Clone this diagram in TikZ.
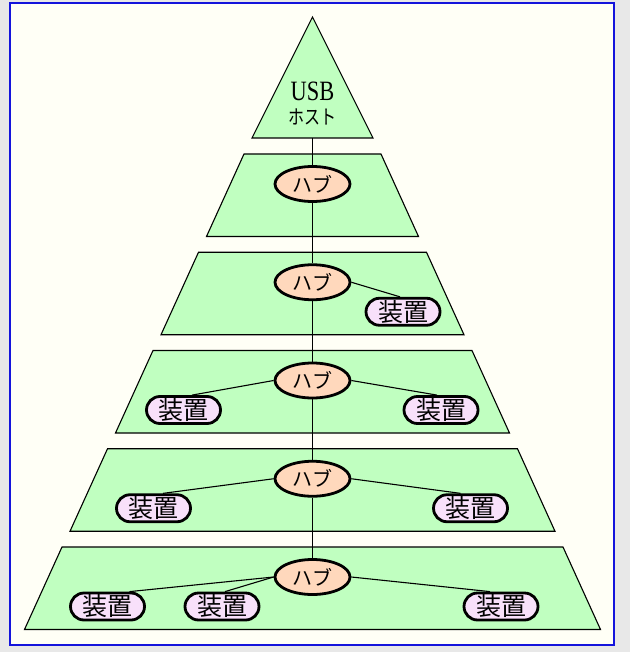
\documentclass[tikz,border=0pt]{standalone}
\usepackage{fontspec}
\setmainfont{Liberation Serif}
\newfontfamily\jfont{Noto Sans CJK JP}
\usetikzlibrary{calc,shapes.geometric}
\definecolor{bggray}{RGB}{232,232,232}
\definecolor{paper}{RGB}{255,255,246}
\definecolor{frameblue}{RGB}{20,20,220}
\definecolor{layergreen}{RGB}{192,255,192}
\definecolor{hubfill}{RGB}{255,216,188}
\definecolor{devfill}{RGB}{248,224,250}
\begin{document}
\begin{tikzpicture}[x=1pt,y=-1pt,
  layer/.style={draw=black,fill=layergreen,line width=1.1pt,line join=miter},
  hub/.style={ellipse,draw=black,fill=hubfill,line width=2.8pt,minimum width=75pt,minimum height=35pt,inner sep=0pt,font=\jfont\fontsize{20}{22}\selectfont},
  device/.style={rectangle,rounded corners=13.5pt,draw=black,fill=devfill,line width=2.8pt,minimum width=74pt,minimum height=27pt,inner sep=0pt,font=\jfont\fontsize{25}{27}\selectfont},
  link/.style={draw=black,line width=1.1pt},
  hosttext/.style={anchor=base,inner sep=0pt}]
% background and frame
\fill[bggray] (0,0) rectangle (630,652);
\useasboundingbox (0,0) rectangle (630,652);
\draw[frameblue,line width=1.5pt,fill=paper] (10,3) rectangle (614,645);
% host triangle
\draw[layer] (312.5,17) -- (373,138) -- (252,138) -- cycle;
\coordinate (hostbase) at (312.5,138);
\node[hosttext] (hostusb) at (312.5,101) {\scalebox{0.8}[1]{\fontsize{28}{28}\selectfont USB}};
\node[hosttext] (hostjp) at (312.5,125) {\scalebox{0.8}[1]{\jfont\fontsize{20}{20}\selectfont ホスト}};
% layers
\foreach \i in {0,...,4}{
  \pgfmathsetmacro{\T}{154+98.25*\i}
  \pgfmathsetmacro{\B}{\T+82.5}
  \pgfmathsetmacro{\a}{68.5+45.5*\i}
  \pgfmathsetmacro{\b}{\a+37.5}
  \draw[layer] (312.5-\a,\T) -- (312.5+\a,\T) -- (312.5+\b,\B) -- (312.5-\b,\B) -- cycle;
}
% hubs
\node[hub] (h1) at (312.5,184) {ハブ};
\node[hub] (h2) at (312.5,282.25) {ハブ};
\node[hub] (h3) at (312.5,380.5) {ハブ};
\node[hub] (h4) at (312.5,478.75) {ハブ};
\node[hub] (h5) at (312.5,577) {ハブ};
% devices
\node[device] (d21) at (403,311.75) {装置};
\node[device] (d31) at (183.5,410) {装置};
\node[device] (d32) at (441,410) {装置};
\node[device] (d41) at (153.5,508.25) {装置};
\node[device] (d42) at (470.5,508.25) {装置};
\node[device] (d51) at (107.5,606.5) {装置};
\node[device] (d52) at (222,606.5) {装置};
\node[device] (d53) at (501,606.5) {装置};
% backbone
\draw[link] (hostbase) -- (h1);
\draw[link] (h1) -- (h2);
\draw[link] (h2) -- (h3);
\draw[link] (h3) -- (h4);
\draw[link] (h4) -- (h5);
% device links
\draw[link] (h2.east) -- ($(d21.north)+(-3,0)$);
\draw[link] (h3.west) -- ($(d31.north)+(8.5,0)$);
\draw[link] (h3.east) -- ($(d32.north)+(-4,0)$);
\draw[link] (h4.west) -- ($(d41.north)+(9.5,0)$);
\draw[link] (h4.east) -- ($(d42.north)+(-10,0)$);
\draw[link] (h5.west) -- ($(d51.north)+(22,0)$);
\draw[link] (h5.west) -- ($(d52.north)+(3,0)$);
\draw[link] (h5.east) -- ($(d53.north)+(-11,0)$);
\end{tikzpicture}
\end{document}
